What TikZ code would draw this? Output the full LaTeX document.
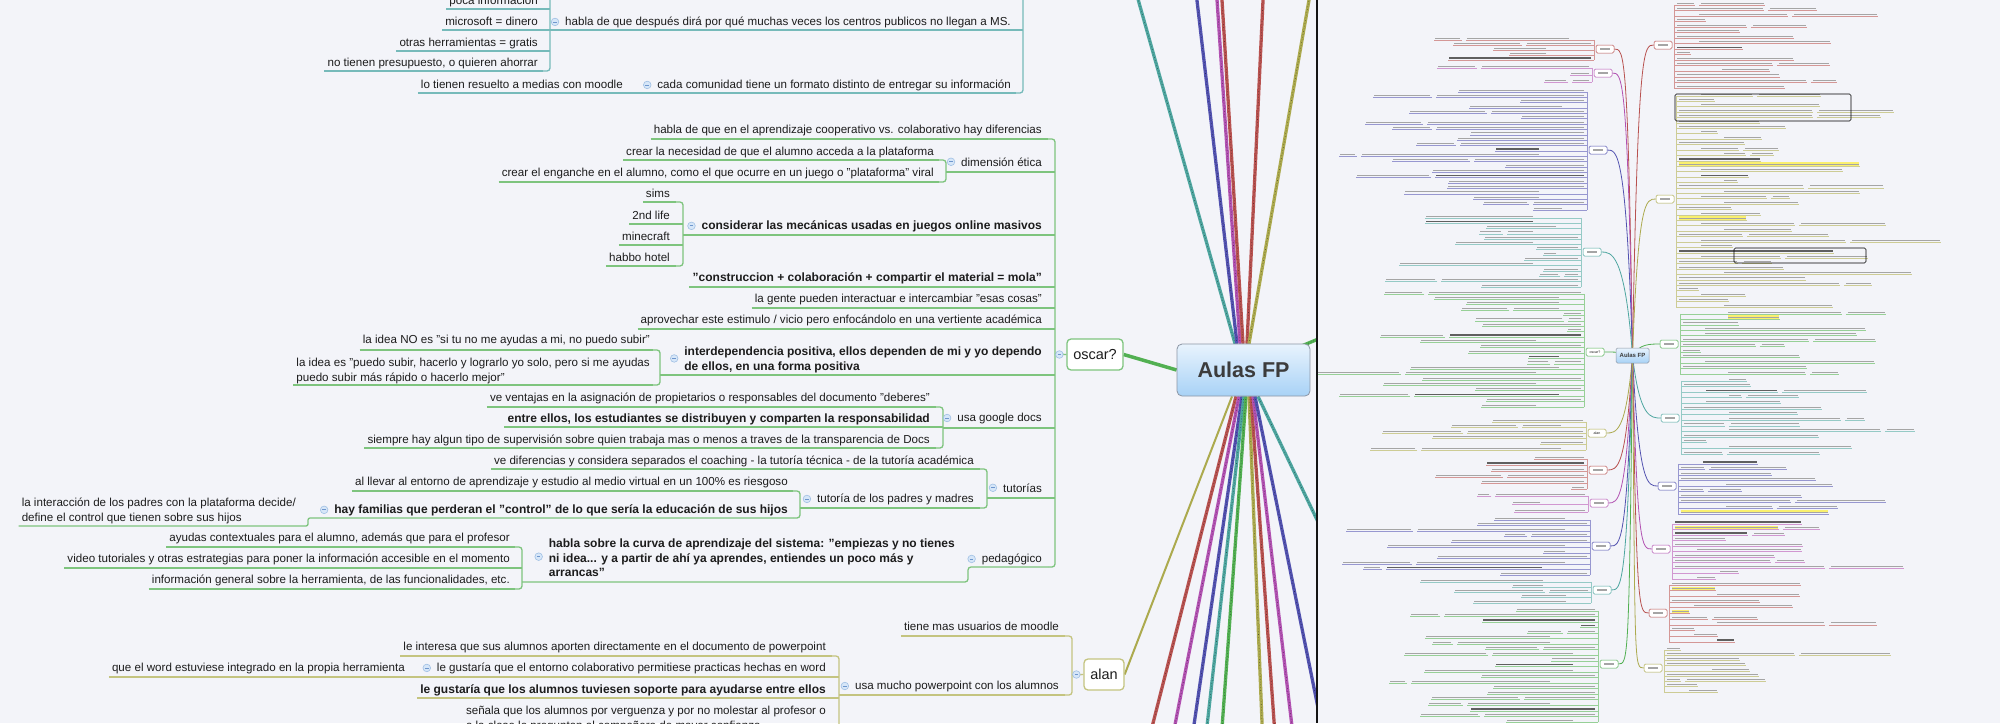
\documentclass[tikz,border=0pt]{standalone}
\usepackage{fontspec}
\setmainfont{Liberation Sans}
\usetikzlibrary{calc}
\pgfdeclarelayer{back}
\pgfdeclarelayer{lines}
\pgfsetlayers{back,lines,main}
\definecolor{bg}{RGB}{243,244,249}
\definecolor{txt}{RGB}{28,28,28}
\definecolor{tealU}{RGB}{118,186,186}
\definecolor{greenU}{RGB}{126,196,126}
\definecolor{oliveU}{RGB}{196,196,128}
\definecolor{cOlive}{RGB}{172,170,78}
\definecolor{cRed}{RGB}{184,82,80}
\definecolor{cMag}{RGB}{178,82,178}
\definecolor{cBlue}{RGB}{82,82,176}
\definecolor{cTeal}{RGB}{78,166,160}
\definecolor{cGreen}{RGB}{82,176,82}
\definecolor{boxd}{RGB}{140,150,165}
\definecolor{boxt}{RGB}{232,243,253}
\definecolor{boxb}{RGB}{168,210,246}
\definecolor{aulast}{RGB}{60,60,60}
\definecolor{icof}{RGB}{214,230,248}
\definecolor{icod}{RGB}{160,192,228}
\definecolor{icom}{RGB}{110,150,205}
\definecolor{ovg}{RGB}{165,165,165}
\definecolor{ovk}{RGB}{95,95,95}
\definecolor{hiy}{RGB}{250,240,110}
\definecolor{divc}{RGB}{20,20,20}
\newcommand\mfont{\fontsize{11.6}{14.8}\selectfont}
\newcommand\bfont{\fontsize{12}{14.8}\selectfont\bfseries}
\tikzset{
 t/.style={font=\mfont, text=txt, inner sep=0pt, anchor=base east},
 tb/.style={t, font=\bfont},
 mlt/.style={align=left, anchor=north east},
 ulT/.style={draw=tealU, line width=1.3},
 ulG/.style={draw=greenU, line width=1.3},
 ulO/.style={draw=oliveU, line width=1.3},
 pbox/.style={draw, fill=white, rounded corners=4, line width=1.3, inner sep=0pt, minimum width=56, minimum height=31, font=\fontsize{14.5}{16}\selectfont, text=txt},
 ovb/.style={draw, fill=white, rounded corners=1.5, line width=0.5, minimum width=18, minimum height=8, inner sep=0pt, font=\fontsize{3.6}{4}\selectfont, text=txt},
 ovtx/.style={draw=ovg, line width=1.0},
 ovbold/.style={draw=ovk, line width=1.3},
 ovul/.style={line width=0.4},
}
\newcommand\UL[4]{\draw[#1] (#2.west |- 0,#3) ++(-3,0) -- (#4,#3);}
\newcommand\BR[4]{\draw[#1,rounded corners=3] (#2-7,#3) -- (#2,#3) -- (#2,#4) -- (#2-7,#4);}
\newcommand\ICO[2][10]{\path (#2.west) ++(-#1,0) coordinate (icotmp);
 \fill[icof] (icotmp) circle (3.8); \draw[icod,line width=0.6] (icotmp) circle (3.8);
 \draw[icom,line width=0.8] ($(icotmp)+(-1.8,0)$) -- ($(icotmp)+(1.8,0)$);}
\newcommand\BL[3]{\draw[line width=3.3,#1] #2 -- #3; \draw[line width=0.6,#1!50!black,dash pattern=on 0.6pt off 2.2pt] #2 -- #3;}
\newcommand\OVC[4]{\path ($(ovc.center)!0.25!(#1.#3)$) coordinate (ovk);
 \draw[#2,line width=0.8] (ovc.center) .. controls (ovk |- #1.#3) and ($(#1.#3)+(#4,0)$) .. (#1.#3);}
\newcommand\OVB[7]{%
 \pgfmathtruncatemacro\OVn{#5-1}%
 \pgfmathsetmacro\OVbx{#1-#2*3}%
 \pgfmathsetmacro\OVyA{#3+1.8}\pgfmathsetmacro\OVyB{#4+1.8}%
 \draw[#7,ovul] (\OVbx,\OVyA) -- (\OVbx,\OVyB);%
 \foreach \OVi in {0,...,\OVn}{%
  \pgfmathsetmacro\OVy{#3+(#4-#3)*\OVi/max(\OVn,1)}%
  \pgfmathsetmacro\OVu{\OVy+1.8}%
  \pgfmathsetmacro\OVw{10+(#6-10)*rnd}%
  \pgfmathsetmacro\OVd{rnd<0.55?0:(rnd<0.5?22:45)}%
  \pgfmathtruncatemacro\OVb{rnd<0.1?1:0}%
  \pgfmathtruncatemacro\OVc{rnd<0.3?1:0}%
  \pgfmathtruncatemacro\OVh{and(rnd<0.06,#2>0)?1:0}%
  \pgfmathsetmacro\OVa{#1+#2*\OVd}%
  \pgfmathsetmacro\OVe{\OVa+#2*\OVw}%
  \pgfmathsetmacro\OVee{\OVe+#2*1}%
  \pgfmathsetmacro\OVyt{\OVy-2}\pgfmathsetmacro\OVyb{\OVy+1.4}%
  \ifnum\OVh=1 \fill[hiy] (\OVa,\OVyt) rectangle (\OVe,\OVyb);\fi
  \ifnum\OVb=1 \draw[ovbold] (\OVa,\OVy) -- (\OVe,\OVy);\else \draw[ovtx] (\OVa,\OVy) -- (\OVe,\OVy);\fi
  \draw[#7,ovul] (\OVbx,\OVu) -- (\OVee,\OVu);
  \ifnum\OVc=1
   \pgfmathsetmacro\OVw{10+80*rnd}%
   \pgfmathsetmacro\OVca{\OVe+#2*7}%
   \pgfmathsetmacro\OVcb{\OVca+#2*\OVw}%
   \pgfmathsetmacro\OVcu{\OVca-#2*2}\pgfmathsetmacro\OVcv{\OVcb+#2*1}%
   \draw[ovtx] (\OVca,\OVy) -- (\OVcb,\OVy);
   \draw[#7,ovul] (\OVcu,\OVu) -- (\OVcv,\OVu);
  \fi}}
\begin{document}
\begin{tikzpicture}[x=1pt,y=-1pt]
\useasboundingbox (0,0) rectangle (2000,723);
\begin{pgfonlayer}{back}
\fill[bg] (0,0) rectangle (2000,723);
\end{pgfonlayer}
\pgfmathsetseed{11}
% ================= main view =================
\node[draw=boxd, rounded corners=5, top color=boxt, bottom color=boxb, line width=0.8, minimum width=133, minimum height=52, inner sep=0pt, font=\fontsize{21.5}{24}\selectfont\bfseries, text=aulast] (aulas) at (1243.5,370) {Aulas FP};
\node[pbox, draw=greenU] (oscar) at (1095,354.5) {oscar?};
\node[pbox, draw=oliveU, minimum width=40] (alan) at (1104,674.5) {alan};
% teal branch
\node[t] (t1) at (538,4) {poca información};
\node[t] (t2) at (538,25) {microsoft = dinero};
\node[t] (t3) at (538,46) {otras herramientas = gratis};
\node[t] (t4) at (538,66) {no tienen presupuesto, o quieren ahorrar};
\node[t] (t5) at (1011,25) {habla de que después dirá por qué muchas veces los centros publicos no llegan a MS.};
\node[t] (t6) at (623,88) {lo tienen resuelto a medias con moodle};
\node[t] (t7) at (1011,88) {cada comunidad tiene un formato distinto de entregar su información};
\UL{ulT}{t1}{9}{550}
\UL{ulT}{t2}{30}{550}
\UL{ulT}{t3}{51}{550}
\UL{ulT}{t4}{71}{543}
\draw[ulT,rounded corners=3] (550,-10) -- (550,71) -- (543,71);
\draw[ulT] (550,30) -- (1023,30);
\UL{ulT}{t6}{93}{1016}
\draw[ulT,rounded corners=3] (1023,-10) -- (1023,93) -- (1016,93);
\ICO{t5} \ICO{t7}
% oscar branch
\node[t] (g1) at (1042,133) {habla de que en el aprendizaje cooperativo vs. colaborativo hay diferencias};
\node[t] (g2) at (1042,166) {dimensión ética};
\node[t] (g2a) at (934,155) {crear la necesidad de que el alumno acceda a la plataforma};
\node[t] (g2b) at (934,176) {crear el enganche en el alumno, como el que ocurre en un juego o "plataforma" viral};
\node[tb] (g3) at (1042,229) {considerar las mecánicas usadas en juegos online masivos};
\node[t] (g3a) at (670,197) {sims};
\node[t] (g3b) at (670,219) {2nd life};
\node[t] (g3c) at (670,240) {minecraft};
\node[t] (g3d) at (670,261) {habbo hotel};
\node[tb] (g4) at (1042,281) {"construccion + colaboración + compartir el material = mola"};
\node[t] (g5) at (1042,302) {la gente pueden interactuar e intercambiar "esas cosas"};
\node[t] (g6) at (1042,323) {aprovechar este estimulo / vicio pero enfocándolo en una vertiente académica};
\node[tb,mlt] (g7) at (1042,344.2) {\rule{0pt}{10.8pt}interdependencia positiva, ellos dependen de mi y yo dependo\\de ellos, en una forma positiva};
\node[t] (g7a) at (650,343) {la idea NO es "si tu no me ayudas a mi, no puedo subir"};
\node[t,mlt] (g7b) at (650,355.2) {\rule{0pt}{10.8pt}la idea es "puedo subir, hacerlo y lograrlo yo solo, pero si me ayudas\\puedo subir más rápido o hacerlo mejor"};
\node[t] (g8) at (1042,421) {usa google docs};
\node[t] (g8a) at (930,401) {ve ventajas en la asignación de propietarios o responsables del documento "deberes"};
\node[tb] (g8b) at (930,422) {entre ellos, los estudiantes se distribuyen y comparten la responsabilidad};
\node[t] (g8c) at (930,443) {siempre hay algun tipo de supervisión sobre quien trabaja mas o menos a traves de la transparencia de Docs};
\node[t] (g9) at (1042,492) {tutorías};
\node[t] (g9a) at (974,464) {ve diferencias y considera separados el coaching - la tutoría técnica - de la tutoría académica};
\node[t] (g9b) at (974,502) {tutoría de los padres y madres};
\node[t] (g9b1) at (788,485) {al llevar al entorno de aprendizaje y estudio al medio virtual en un 100\% es riesgoso};
\node[tb] (g9b2) at (788,513) {hay familias que perderan el "control" de lo que sería la educación de sus hijos};
\node[t,mlt] (g9b2a) at (296,495.2) {\rule{0pt}{10.8pt}la interacción de los padres con la plataforma decide/\\define el control que tienen sobre sus hijos};
\node[t] (g10) at (1042,562) {pedagógico};
\node[tb,mlt] (g10a) at (955,536.2) {\rule{0pt}{10.8pt}habla sobre la curva de aprendizaje del sistema: "empiezas y no tienes\\ni idea... y a partir de ahí ya aprendes, entiendes un poco más y\\arrancas"};
\node[t] (g10a1) at (510,541) {ayudas contextuales para el alumno, además que para el profesor};
\node[t] (g10a2) at (510,562) {video tutoriales y otras estrategias para poner la información accesible en el momento};
\node[t] (g10a3) at (510,583) {información general sobre la herramienta, de las funcionalidades, etc.};
% oscar underlines
\UL{ulG}{g1}{139}{1048}
\draw[ulG] (946,172) -- (1055,172);
\UL{ulG}{g2a}{160}{939}
\UL{ulG}{g2b}{182}{939}
\BR{ulG}{946}{160}{182}
\draw[ulG] (683,235) -- (1055,235);
\UL{ulG}{g3a}{202}{676}
\UL{ulG}{g3b}{224}{683}
\UL{ulG}{g3c}{245}{683}
\UL{ulG}{g3d}{266}{676}
\BR{ulG}{683}{202}{266}
\UL{ulG}{g4}{287}{1055}
\UL{ulG}{g5}{308}{1055}
\UL{ulG}{g6}{329}{1055}
\draw[ulG] (660,375) -- (1055,375);
\UL{ulG}{g7a}{350}{653}
\UL{ulG}{g7b}{385}{653}
\BR{ulG}{660}{350}{385}
\draw[ulG] (943,428) -- (1055,428);
\UL{ulG}{g8a}{407}{936}
\UL{ulG}{g8b}{427}{943}
\UL{ulG}{g8c}{448}{936}
\BR{ulG}{943}{407}{448}
\draw[ulG] (987,498) -- (1055,498);
\UL{ulG}{g9a}{469}{980}
\draw[ulG] (800,508) -- (980,508);
\BR{ulG}{987}{469}{508}
\UL{ulG}{g9b1}{491}{793}
\draw[ulG,rounded corners=2] (g9b2a.west |- 0,526) ++(-3,0) -- (308,526) -- (308,518) -- (793,518);
\BR{ulG}{800}{491}{518}
\draw[ulG,rounded corners=3] (522,582) -- (968,582) -- (968,567) -- (1048,567);
\UL{ulG}{g10a1}{547}{515}
\UL{ulG}{g10a2}{568}{522}
\UL{ulG}{g10a3}{589}{515}
\BR{ulG}{522}{547}{589}
\BR{ulG}{1055}{139}{567}
\draw[ulG] (1055,354) -- (oscar.west);
\ICO{g2} \ICO{g3} \ICO{g7} \ICO{g8} \ICO{g9} \ICO{g9b} \ICO{g9b2} \ICO{g10} \ICO{g10a} \ICO[7]{oscar}
% alan branch
\node[t] (a1) at (1059,630) {tiene mas usuarios de moodle};
\node[t] (a2) at (1059,689) {usa mucho powerpoint con los alumnos};
\node[t] (a2a) at (826,650) {le interesa que sus alumnos aporten directamente en el documento de powerpoint};
\node[t] (a2b) at (826,671) {le gustaría que el entorno colaborativo permitiese practicas hechas en word};
\node[t] (a2b1) at (405,671) {que el word estuviese integrado en la propia herramienta};
\node[tb] (a2c) at (826,693) {le gustaría que los alumnos tuviesen soporte para ayudarse entre ellos};
\node[t,mlt] (a2d) at (826,703.2) {\rule{0pt}{10.8pt}señala que los alumnos por verguenza y por no molestar al profesor o\\a la clase le preguntan al compañero de mayor confianza};
\UL{ulO}{a1}{636}{1065}
\draw[ulO] (839,695) -- (1065,695);
\BR{ulO}{1072}{636}{695}
\draw[ulO] (1072,675) -- (alan.west);
\UL{ulO}{a2a}{656}{832}
\UL{ulO}{a2b1}{677}{839}
\UL{ulO}{a2c}{698}{839}
\UL{ulO}{a2d}{735}{839}
\draw[ulO,rounded corners=3] (832,656) -- (839,656) -- (839,740);
\ICO[7]{alan} \ICO{a2} \ICO{a2b}
% main branch lines
\begin{pgfonlayer}{lines}
\begin{scope}
\clip (0,-1) rectangle (1316,724);
\coordinate (e1) at (1136,-8);
\coordinate (e2) at (1196,-8);
\coordinate (e3) at (1216.5,-8);
\coordinate (e4) at (1221.5,-8);
\coordinate (e5) at (1263.4,-8);
\coordinate (e6) at (1310.4,-8);
\coordinate (e7) at (1340,330);
\coordinate (f1) at (1150,735);
\coordinate (f2) at (1173,735);
\coordinate (f3) at (1192.5,735);
\coordinate (f4) at (1206,735);
\coordinate (f5) at (1221.5,735);
\coordinate (f6) at (1262.5,735);
\coordinate (f7) at (1275,735);
\coordinate (f8) at (1293,735);
\coordinate (f9) at (1330,767);
\coordinate (f10) at (1330,547);
\BL{cTeal}{([xshift=-8.5pt]aulas.north)}{(e1)}
\BL{cBlue}{([xshift=-6.5pt]aulas.north)}{(e2)}
\BL{cMag}{([xshift=-3.5pt]aulas.north)}{(e3)}
\BL{cRed}{([xshift=-0.5pt]aulas.north)}{(e4)}
\BL{cRed}{([xshift=3.5pt]aulas.north)}{(e5)}
\BL{cOlive}{([xshift=5.5pt]aulas.north)}{(e6)}
\BL{cGreen}{(aulas.center)}{(e7)}
\draw[line width=3.5,cGreen] (oscar.east) -- (aulas.west);
\draw[line width=2,cOlive] (alan.east) -- ([xshift=-11.5pt]aulas.south);
\BL{cRed}{([xshift=-7.5pt]aulas.south)}{(f1)}
\BL{cMag}{([xshift=-4.5pt]aulas.south)}{(f2)}
\BL{cBlue}{([xshift=-1.5pt]aulas.south)}{(f3)}
\BL{cTeal}{([xshift=0.5pt]aulas.south)}{(f4)}
\BL{cGreen}{([xshift=2.5pt]aulas.south)}{(f5)}
\BL{cOlive}{([xshift=5.5pt]aulas.south)}{(f6)}
\BL{cRed}{([xshift=7.5pt]aulas.south)}{(f7)}
\BL{cMag}{([xshift=9.5pt]aulas.south)}{(f8)}
\BL{cBlue}{([xshift=11.5pt]aulas.south)}{(f9)}
\BL{cTeal}{([xshift=14.5pt]aulas.south)}{(f10)}
\end{scope}
\end{pgfonlayer}
% ================= overview =================
\begin{scope}
\clip (1318,0) rectangle (2000,723);
\OVB{1591}{(-1)}{38}{58}{5}{150}{cRed!60}
\OVB{1589}{(-1)}{66}{80}{3}{130}{cMag!60}
\OVB{1584}{(-1)}{90}{208}{23}{180}{cBlue!60}
\OVB{1578}{(-1)}{216}{285}{14}{150}{cTeal!60}
\OVB{1581}{(-1)}{292}{405}{22}{170}{cGreen!60}
\OVB{1583}{(-1)}{420}{448}{6}{150}{cOlive!60}
\OVB{1584}{(-1)}{457}{487}{6}{120}{cRed!60}
\OVB{1585}{(-1)}{494}{510}{3}{140}{cMag!60}
\OVB{1587}{(-1)}{518}{573}{11}{190}{cBlue!60}
\OVB{1588}{(-1)}{580}{601}{5}{150}{cTeal!60}
\OVB{1595}{(-1)}{609}{720}{21}{160}{cGreen!60}
\OVB{1677}{(1)}{3}{86}{16}{150}{cRed!60}
\OVB{1679}{(1)}{94}{305}{40}{190}{cOlive!60}
\OVB{1683}{(1)}{312}{372}{12}{170}{cGreen!60}
\OVB{1684}{(1)}{379}{452}{14}{160}{cTeal!60}
\OVB{1681}{(1)}{462}{512}{10}{160}{cBlue!60}
\OVB{1675}{(1)}{522}{577}{11}{150}{cMag!60}
\OVB{1672}{(1)}{583}{640}{11}{140}{cRed!60}
\OVB{1667}{(1)}{648}{690}{9}{150}{cOlive!60}
\draw[line width=0.6,rounded corners=1.5] (1675,94) rectangle (1851,121);
\draw[line width=0.6,rounded corners=1.5] (1734,248) rectangle (1866,263);
\end{scope}
\node[draw=boxd, rounded corners=1.5, top color=boxt, bottom color=boxb, line width=0.5, minimum width=33, minimum height=15, inner sep=0pt, font=\fontsize{6}{7}\selectfont\bfseries, text=aulast] (ovc) at (1632.5,355.5) {Aulas FP};
\newcommand\ovbar{\textcolor{ovg}{\rule{10pt}{1.2pt}}}
\node[ovb,draw=cRed] (ovL1) at (1605,49) {\ovbar};
\node[ovb,draw=cMag] (ovL2) at (1603,73) {\ovbar};
\node[ovb,draw=cBlue] (ovL3) at (1598,150) {\ovbar};
\node[ovb,draw=cTeal] (ovL4) at (1592,252) {\ovbar};
\node[ovb,draw=cGreen] (ovL5) at (1595,352) {oscar?};
\node[ovb,draw=cOlive] (ovL6) at (1597,433) {alan};
\node[ovb,draw=cRed] (ovL7) at (1598,470) {\ovbar};
\node[ovb,draw=cMag] (ovL8) at (1599,503) {\ovbar};
\node[ovb,draw=cBlue] (ovL9) at (1601,546) {\ovbar};
\node[ovb,draw=cTeal] (ovL10) at (1602,590) {\ovbar};
\node[ovb,draw=cGreen] (ovL11) at (1609,664) {\ovbar};
\node[ovb,draw=cRed] (ovR1) at (1663,45) {\ovbar};
\node[ovb,draw=cOlive] (ovR2) at (1665,199) {\ovbar};
\node[ovb,draw=cGreen] (ovR3) at (1669,344) {\ovbar};
\node[ovb,draw=cTeal] (ovR4) at (1670,418) {\ovbar};
\node[ovb,draw=cBlue] (ovR5) at (1667,486) {\ovbar};
\node[ovb,draw=cMag] (ovR6) at (1661,549) {\ovbar};
\node[ovb,draw=cRed] (ovR7) at (1658,613) {\ovbar};
\node[ovb,draw=cOlive] (ovR8) at (1653,668) {\ovbar};
\begin{pgfonlayer}{lines}
\begin{scope}
\clip (1318,0) rectangle (2000,723);
\OVC{ovL1}{cRed}{east}{10}
\OVC{ovL2}{cMag}{east}{10}
\OVC{ovL3}{cBlue}{east}{10}
\OVC{ovL4}{cTeal}{east}{10}
\OVC{ovL5}{cGreen}{east}{10}
\OVC{ovL6}{cOlive}{east}{10}
\OVC{ovL7}{cRed}{east}{10}
\OVC{ovL8}{cMag}{east}{10}
\OVC{ovL9}{cBlue}{east}{10}
\OVC{ovL10}{cTeal}{east}{10}
\OVC{ovL11}{cGreen}{east}{10}
\OVC{ovR1}{cRed}{west}{-10}
\OVC{ovR2}{cOlive}{west}{-10}
\OVC{ovR3}{cGreen}{west}{-10}
\OVC{ovR4}{cTeal}{west}{-10}
\OVC{ovR5}{cBlue}{west}{-10}
\OVC{ovR6}{cMag}{west}{-10}
\OVC{ovR7}{cRed}{west}{-10}
\OVC{ovR8}{cOlive}{west}{-10}
\end{scope}
\end{pgfonlayer}
\draw[divc, line width=1.6] (1316.8,0) -- (1316.8,723);
\end{tikzpicture}
\end{document}
